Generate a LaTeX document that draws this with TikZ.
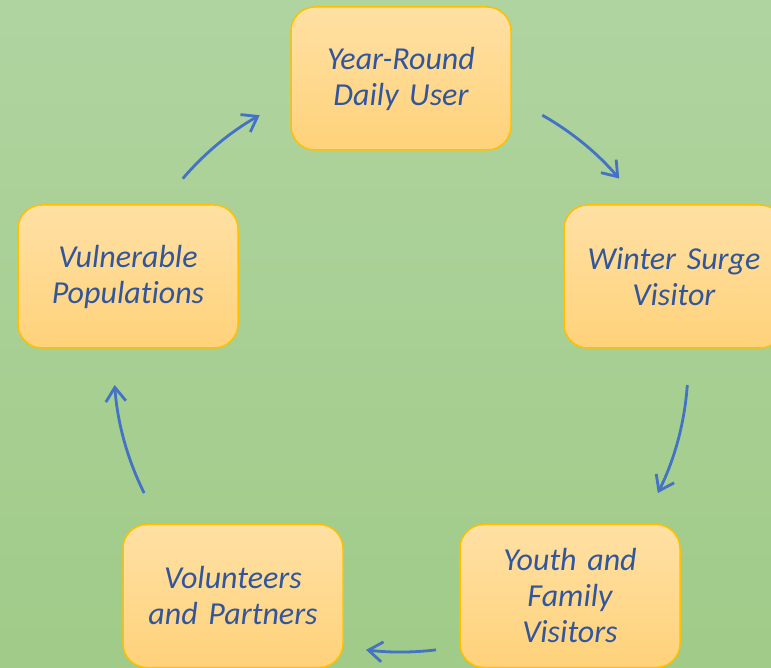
\documentclass[tikz,border=0pt]{standalone}
\usepackage{fontspec}
\setmainfont[Ligatures={NoCommon}]{Carlito}
\usetikzlibrary{arrows.meta,calc}
\definecolor{bgtop}{RGB}{176,212,160}
\definecolor{bgbot}{RGB}{160,203,136}
\definecolor{boxtop}{RGB}{255,224,164}
\definecolor{boxbot}{RGB}{255,210,122}
\definecolor{boxline}{RGB}{255,192,0}
\definecolor{txtblue}{RGB}{50,86,156}
\definecolor{arrowblue}{RGB}{68,114,196}
\tikzset{
  stagebox/.style={draw=boxline, line width=1.5pt, rounded corners=24pt,
    top color=boxtop, bottom color=boxbot,
    minimum width=220pt, minimum height=143pt, text width=210pt,
    align=center, inner sep=0pt,
    font=\fontsize{32}{36}\selectfont\itshape, text=txtblue},
  flow/.style={draw=arrowblue, line width=2.8pt,
    -{Straight Barb[length=14pt,width=20pt]}}
}
\begin{document}
\begin{tikzpicture}[x=1pt,y=1pt]
\useasboundingbox (0,0) rectangle (771,667);
\clip (0,0) rectangle (771,667);
\shade[top color=bgtop, bottom color=bgbot] (0,0) rectangle (771,667);
\node[stagebox] (top) at (401,588.5) {Year-Round\\Daily User};
\node[stagebox] (right) at (674,390.5) {Winter Surge\\Visitor};
\node[stagebox] (br) at (570,71) {Youth and\\Family\\Visitors};
\node[stagebox] (bl) at (233,71) {Volunteers\\and Partners};
\node[stagebox] (left) at (128,390.5) {Vulnerable\\Populations};
\coordinate (c) at (401,302);
\coordinate (a1) at ($(c)+(60.5:287)$);
\coordinate (a2) at ($(c)+(-4:287)$);
\coordinate (a3) at ($(c)+(-83:287)$);
\coordinate (a4) at ($(c)+(-153.5:287)$);
\coordinate (a5) at ($(c)+(139.5:287)$);
\draw[flow] (a1) arc[start angle=60.5, end angle=40.5, radius=287];
\draw[flow] (a2) arc[start angle=-4, end angle=-26.5, radius=287];
\draw[flow] (a3) arc[start angle=-83, end angle=-97, radius=287];
\draw[flow] (a4) arc[start angle=-153.5, end angle=-176, radius=287];
\draw[flow] (a5) arc[start angle=139.5, end angle=119.5, radius=287];
\end{tikzpicture}
\end{document}
